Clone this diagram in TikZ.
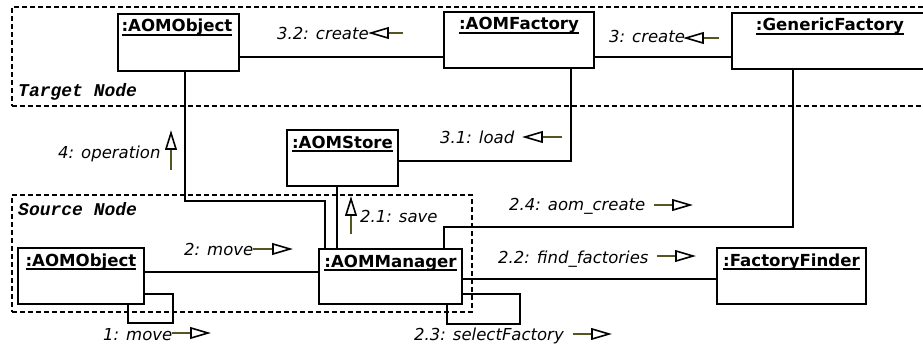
\documentclass[tikz,border=0pt]{standalone}
\usepackage{fontspec}
\setmainfont{DejaVu Sans}
\newfontfamily\framefont{Liberation Mono}
\definecolor{msgcol}{RGB}{85,85,34}
\newcommand{\ultitle}[1]{\setbox0\hbox{#1}\rlap{\rule[-3.6pt]{\wd0}{1.7pt}}\box0}
\begin{document}
\begin{tikzpicture}[x=1pt,y=-1pt,
 obj/.style={draw=black, line width=1.9pt, fill=white, anchor=north west, inner sep=0pt, outer sep=0pt},
 ttl/.style={anchor=base, font=\fontsize{16.6}{18}\selectfont\bfseries, inner sep=0pt},
 conn/.style={draw=black, line width=1.7pt},
 frame/.style={draw=black, line width=1.5pt, dash pattern=on 5pt off 3pt, anchor=north west, inner sep=0pt, outer sep=0pt},
 framelbl/.style={anchor=base west, font=\fontsize{18}{20}\framefont\bfseries\itshape, inner sep=0pt},
 msg/.style={anchor=base west, font=\fontsize{16.5}{19}\selectfont\itshape, inner sep=0pt},
 mline/.style={draw=msgcol, line width=1.8pt},
 tri/.style={draw=black, fill=white, line width=1.6pt, line join=miter}
]
\useasboundingbox (0,0) rectangle (923,345);
% frames
\node[frame, minimum width=930pt, minimum height=99pt] (tgtframe) at (12,7) {};
\node[framelbl] (tgtlbl) at (18,96) {Target Node};
\node[frame, minimum width=460pt, minimum height=117pt] (srcframe) at (12,195) {};
\node[framelbl] (srclbl) at (18,215) {Source Node};
% connectors
\draw[conn] (239,57) -- (444,57);
\draw[conn] (594,57) -- (732,57);
\draw[conn] (571,68) |- (398,161);
\draw[conn] (793,69) |- (444,227) -- (444,249);
\draw[conn] (185,71) |- (325,201) -- (325,249);
\draw[conn] (337,186) -- (337,249);
\draw[conn] (144,272) -- (319,272);
\draw[conn] (462,279) -- (717,279);
\draw[conn] (128,304) |- (173,323) |- (144,294);
\draw[conn] (447,304) |- (520,324) |- (462,294);
% boxes
\node[obj, minimum width=121pt, minimum height=57pt] (tobj) at (118,14) {};
\node[ttl] (tobjt) at (177,32) {\ultitle{:AOMObject}};
\node[obj, minimum width=150pt, minimum height=56pt] (fac) at (444,12) {};
\node[ttl] (fact) at (519,30) {\ultitle{:AOMFactory}};
\node[obj, minimum width=196pt, minimum height=56pt] (gen) at (732,13) {};
\node[ttl] (gent) at (830,31) {\ultitle{:GenericFactory}};
\node[obj, minimum width=111pt, minimum height=56pt] (store) at (287,130) {};
\node[ttl] (storet) at (342.5,148) {\ultitle{:AOMStore}};
\node[obj, minimum width=126pt, minimum height=56pt] (sobj) at (18,248) {};
\node[ttl] (sobjt) at (81,266) {\ultitle{:AOMObject}};
\node[obj, minimum width=143pt, minimum height=55pt] (mgr) at (319,249) {};
\node[ttl] (mgrt) at (390.5,267) {\ultitle{:AOMManager}};
\node[obj, minimum width=149pt, minimum height=56pt] (ff) at (717,248) {};
\node[ttl] (fft) at (791.5,266) {\ultitle{:FactoryFinder}};
% messages (left-pointing)
\node[msg] (m32) at (277,40) {3.2: create};
\coordinate (m32a) at (403,33); \coordinate (m32b) at (371,33);
\draw[mline] (m32a) -- ++(-16,0);
\draw[tri] (m32b) -- ++(17,-5) -- ++(0,10) -- cycle;
\node[msg] (m3) at (609,43) {3: create};
\coordinate (m3a) at (719,38); \coordinate (m3b) at (686,38);
\draw[mline] (m3a) -- ++(-17,0);
\draw[tri] (m3b) -- ++(17,-5) -- ++(0,10) -- cycle;
\node[msg] (m31) at (440,143) {3.1: load};
\coordinate (m31a) at (562,137); \coordinate (m31b) at (525,137);
\draw[mline] (m31a) -- ++(-20,0);
\draw[tri] (m31b) -- ++(17,-5) -- ++(0,10) -- cycle;
% up-pointing
\node[msg] (m4) at (58,158) {4: operation};
\coordinate (m4a) at (171,170); \coordinate (m4b) at (171,133);
\draw[mline] (m4a) -- ++(0,-21);
\draw[tri] (m4b) -- ++(-5,16) -- ++(10,0) -- cycle;
\node[msg] (m21) at (360,222) {2.1: save};
\coordinate (m21a) at (351,234); \coordinate (m21b) at (351,199);
\draw[mline] (m21a) -- ++(0,-19);
\draw[tri] (m21b) -- ++(-5,16) -- ++(10,0) -- cycle;
% right-pointing
\node[msg] (m24) at (509,210) {2.4: aom\_create};
\coordinate (m24a) at (654,205); \coordinate (m24b) at (690,205);
\draw[mline] (m24a) -- ++(19,0);
\draw[tri] (m24b) -- ++(-17,-5) -- ++(0,10) -- cycle;
\node[msg] (m22) at (498,263) {2.2: find\_factories};
\coordinate (m22a) at (657,256); \coordinate (m22b) at (693,256);
\draw[mline] (m22a) -- ++(19,0);
\draw[tri] (m22b) -- ++(-17,-5) -- ++(0,10) -- cycle;
\node[msg] (m23) at (414,340) {2.3: selectFactory};
\coordinate (m23a) at (573,334); \coordinate (m23b) at (609,334);
\draw[mline] (m23a) -- ++(19,0);
\draw[tri] (m23b) -- ++(-17,-5) -- ++(0,10) -- cycle;
\node[msg] (m1) at (103,340) {1: move};
\coordinate (m1a) at (172,333); \coordinate (m1b) at (208,333);
\draw[mline] (m1a) -- ++(19,0);
\draw[tri] (m1b) -- ++(-17,-5) -- ++(0,10) -- cycle;
\node[msg] (m2) at (184,255) {2: move};
\coordinate (m2a) at (253,249); \coordinate (m2b) at (290,249);
\draw[mline] (m2a) -- ++(20,0);
\draw[tri] (m2b) -- ++(-17,-5) -- ++(0,10) -- cycle;
\end{tikzpicture}
\end{document}
